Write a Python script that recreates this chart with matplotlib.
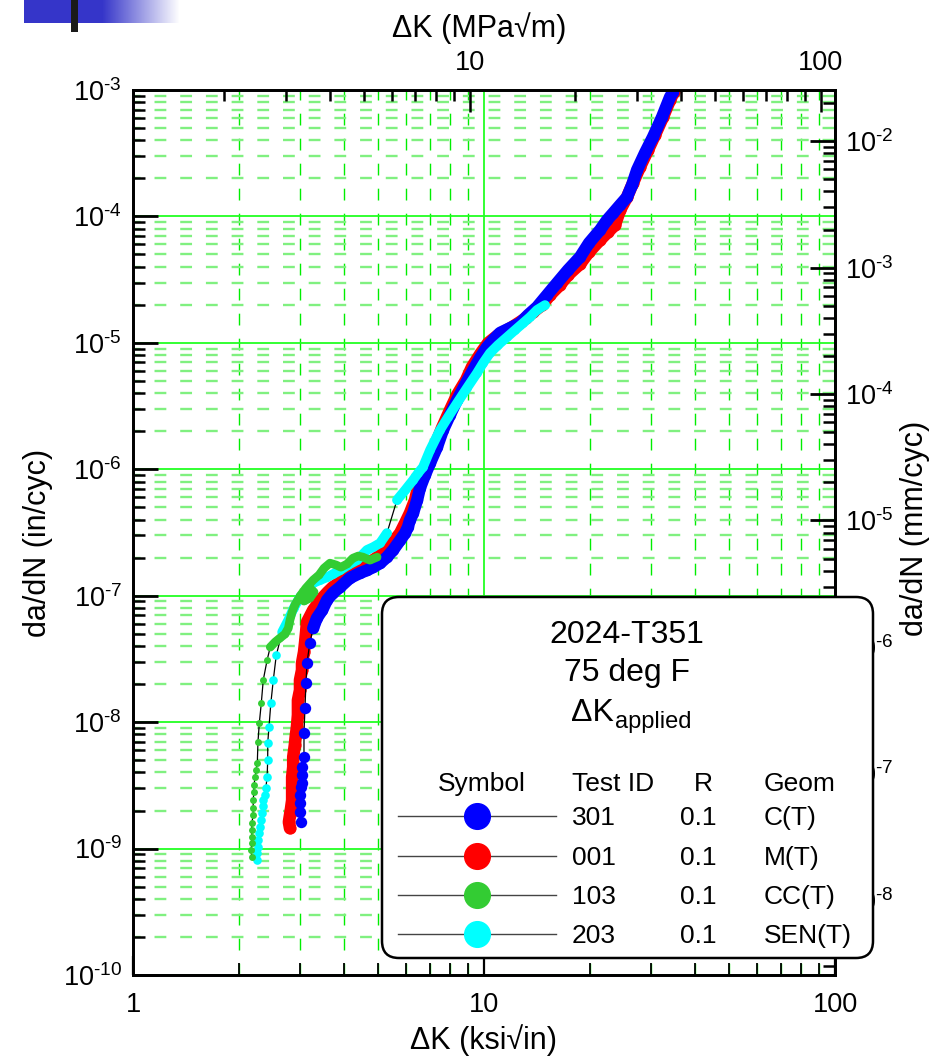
import numpy as np
import matplotlib
matplotlib.use('Agg')
import matplotlib.pyplot as plt
from matplotlib.ticker import (LogLocator, NullFormatter, FuncFormatter, FixedLocator)
from matplotlib.patches import FancyBboxPatch, Rectangle
from matplotlib.lines import Line2D

plt.rcParams['font.family'] = ['Liberation Sans', 'DejaVu Sans']
plt.rcParams['mathtext.fontset'] = 'custom'
plt.rcParams['mathtext.rm'] = 'Liberation Sans'
plt.rcParams['mathtext.it'] = 'Liberation Sans:italic'
plt.rcParams['mathtext.bf'] = 'Liberation Sans:bold'
plt.rcParams['lines.scale_dashes'] = False

# ---------------- data ----------------
KSI_TO_MPA = 1.0988   # ksi*sqrt(in) -> MPa*sqrt(m)
IN_TO_MM = 25.4       # in/cyc -> mm/cyc

# 301, C(T)  (blue)
blue_dk = [3.01, 2.99, 2.99, 2.99, 3.01, 3.03, 3.03, 3.03, 3.07, 3.07,
           3.09, 3.11, 3.13, 3.19, 3.26, 3.34, 3.46, 3.57, 3.71, 3.89,
           4.15, 4.43, 4.64, 4.83, 5.06, 5.29, 5.51, 5.77, 5.96, 6.07,
           6.15, 6.28, 6.45, 6.57, 6.79, 7.02, 7.35, 7.64, 8.00, 8.38,
           8.83, 9.31, 9.74, 10.20, 10.61, 11.11, 11.86, 12.66, 13.35, 14.16,
           15.12, 16.14, 17.35, 18.77, 19.91, 21.41, 22.41, 23.31, 24.41, 25.55,
           26.41, 27.29, 28.75, 30.30, 32.15, 33.88, 34.56]
blue_rate = [1.62e-9, 1.94e-9, 2.29e-9, 2.64e-9, 3.06e-9, 3.29e-9, 3.81e-9, 4.41e-9, 5.29e-9, 8.18e-9,
             1.29e-8, 2.03e-8, 2.93e-8, 4.22e-8, 5.54e-8, 6.65e-8, 7.69e-8, 9.23e-8, 1.05e-7, 1.17e-7,
             1.38e-7, 1.51e-7, 1.59e-7, 1.68e-7, 1.81e-7, 2.02e-7, 2.30e-7, 2.75e-7, 3.13e-7, 3.49e-7,
             3.96e-7, 4.50e-7, 5.71e-7, 7.10e-7, 9.00e-7, 1.12e-6, 1.50e-6, 2.04e-6, 2.69e-6, 3.53e-6,
             4.64e-6, 6.09e-6, 7.59e-6, 9.26e-6, 1.05e-5, 1.20e-5, 1.31e-5, 1.43e-5, 1.66e-5, 1.92e-5,
             2.39e-5, 2.97e-5, 3.77e-5, 4.77e-5, 6.16e-5, 7.81e-5, 9.36e-5, 1.06e-4, 1.23e-4, 1.42e-4,
             1.77e-4, 2.33e-4, 3.18e-4, 4.25e-4, 6.11e-4, 8.80e-4, 9.64e-4]

# 001, M(T)  (red)
red_dk = [2.80, 2.78, 2.80, 2.82, 2.84, 2.84, 2.84, 2.84, 2.86, 2.86,
          2.89, 2.91, 2.93, 2.95, 2.95, 2.99, 2.99, 3.03, 3.03, 3.07,
          3.09, 3.11, 3.13, 3.26, 3.37, 3.48, 3.59, 3.71, 3.89, 4.07,
          4.23, 4.43, 4.64, 4.83, 5.06, 5.29, 5.51, 5.77, 5.96, 6.15,
          6.36, 6.49, 6.70, 7.02, 7.30, 7.59, 8.00, 8.38, 8.89, 9.24,
          9.80, 10.27, 10.96, 12.02, 13.17, 13.79, 14.63, 15.42, 16.46, 17.35,
          18.77, 19.91, 21.41, 22.55, 23.61, 24.41, 25.55, 26.58, 27.82, 29.33,
          30.70, 32.36, 33.88, 34.78]
red_rate = [1.45e-9, 1.62e-9, 1.84e-9, 2.09e-9, 2.41e-9, 2.79e-9, 3.18e-9, 3.67e-9, 4.41e-9, 5.29e-9,
            6.58e-9, 7.89e-9, 9.13e-9, 1.14e-8, 1.49e-8, 1.79e-8, 2.15e-8, 2.58e-8, 2.93e-8, 3.58e-8,
            4.22e-8, 5.06e-8, 6.18e-8, 7.69e-8, 8.73e-8, 9.75e-8, 1.07e-7, 1.17e-7, 1.28e-7, 1.40e-7,
            1.54e-7, 1.65e-7, 1.78e-7, 1.91e-7, 2.09e-7, 2.30e-7, 2.66e-7, 3.13e-7, 3.75e-7, 4.50e-7,
            5.71e-7, 7.23e-7, 9.33e-7, 1.23e-6, 1.61e-6, 2.12e-6, 2.94e-6, 3.87e-6, 5.08e-6, 6.44e-6,
            8.31e-6, 9.96e-6, 1.15e-5, 1.33e-5, 1.57e-5, 1.75e-5, 1.99e-5, 2.39e-5, 2.87e-5, 3.44e-5,
            4.20e-5, 5.23e-5, 6.51e-5, 7.53e-5, 8.55e-5, 1.12e-4, 1.42e-4, 1.84e-4, 2.46e-4, 3.35e-4,
            4.41e-4, 6.11e-4, 8.33e-4, 9.70e-4]

# 103, CC(T)  (green)
green_dk = [2.18, 2.17, 2.18, 2.18, 2.18, 2.18, 2.20, 2.20, 2.20, 2.21,
            2.21, 2.23, 2.24, 2.26, 2.27, 2.29, 2.32, 2.35, 2.41, 2.46,
            2.54, 2.62, 2.71, 2.77, 2.80, 2.84, 2.89, 2.97, 3.07, 3.19,
            3.28, 3.19, 3.07, 2.99, 3.11, 3.26, 3.39, 3.50, 3.64, 3.79,
            3.91, 4.07, 4.23, 4.38, 4.52, 4.73, 4.96]
green_rate = [8.55e-10, 9.70e-10, 1.10e-9, 1.23e-9, 1.40e-9, 1.59e-9, 1.84e-9, 2.09e-9, 2.41e-9, 2.79e-9,
              3.18e-9, 3.67e-9, 4.17e-9, 4.74e-9, 6.95e-9, 9.82e-9, 1.41e-8, 2.15e-8, 3.09e-8, 3.92e-8,
              4.30e-8, 4.62e-8, 4.97e-8, 5.54e-8, 6.41e-8, 7.41e-8, 8.43e-8, 9.58e-8, 1.05e-7, 1.15e-7,
              1.07e-7, 9.58e-8, 9.06e-8, 9.93e-8, 1.15e-7, 1.33e-7, 1.46e-7, 1.65e-7, 1.81e-7, 1.75e-7,
              1.68e-7, 1.78e-7, 1.98e-7, 2.06e-7, 2.02e-7, 1.91e-7, 2.02e-7]

# 203, SEN(T)  (cyan)
cyan_dk = [2.26, 2.26, 2.27, 2.27, 2.29, 2.30, 2.32, 2.33, 2.35, 2.35,
           2.38, 2.39, 2.41, 2.42, 2.42, 2.44, 2.47, 2.51, 2.56, 2.66,
           2.77, 2.87, 2.99, 3.13, 3.26, 3.41, 3.57, 3.71, 3.89, 4.10,
           4.35, 4.49, 4.64, 4.83, 5.06, 5.29,
           5.65, 5.96, 6.28, 6.49, 6.70, 7.02, 7.49, 7.90, 8.38, 8.94,
           9.55, 9.94, 10.40, 10.96, 11.63, 12.25, 12.91, 13.52, 14.16, 14.92]
cyan_rate = [8.10e-10, 9.20e-10, 1.03e-9, 1.16e-9, 1.32e-9, 1.48e-9, 1.68e-9, 1.91e-9, 2.16e-9, 2.41e-9,
             2.64e-9, 3.00e-9, 3.67e-9, 5.00e-9, 6.82e-9, 9.13e-9, 1.41e-8, 2.15e-8, 3.39e-8, 5.15e-8,
             6.41e-8, 7.98e-8, 9.75e-8, 1.11e-7, 1.26e-7, 1.33e-7, 1.40e-7, 1.48e-7, 1.59e-7, 1.75e-7,
             1.91e-7, 2.09e-7, 2.30e-7, 2.42e-7, 2.61e-7, 3.13e-7,
             5.71e-7, 6.84e-7, 8.21e-7, 9.33e-7, 1.04e-6, 1.42e-6, 2.04e-6, 2.59e-6, 3.34e-6, 4.39e-6,
             5.77e-6, 6.92e-6, 8.31e-6, 9.61e-6, 1.11e-5, 1.26e-5, 1.43e-5, 1.60e-5, 1.82e-5, 1.99e-5]

test_ids = ['301', '001', '103', '203']
r_values = ['0.1', '0.1', '0.1', '0.1']
geoms = ['C(T)', 'M(T)', 'CC(T)', 'SEN(T)']
series_colors = ['#0000ff', '#ff0000', '#33cc33', '#00ffff']

x_major = [1, 10, 100]
y_major = [1e-10, 1e-9, 1e-8, 1e-7, 1e-6, 1e-5, 1e-4, 1e-3]
top_major = [10, 100]
right_major = [1e-8, 1e-7, 1e-6, 1e-5, 1e-4, 1e-3, 1e-2]

# ---------------- figure ----------------
W, H = 932, 1058
fig = plt.figure(figsize=(W / 100, H / 100), dpi=100)
ax = fig.add_axes([133 / W, 1 - 975 / H, (835 - 133) / W, (975 - 90) / H])
ax.set_xscale('log')
ax.set_yscale('log')
ax.set_xlim(1, 100)
ax.set_ylim(1e-10, 1e-3)
ax.set_axisbelow(True)

# grid
ax.xaxis.grid(True, which='major', color='#22ff22', lw=1.3, ls='-')
ax.yaxis.grid(True, which='major', color='#22ff22', lw=1.3, ls='-')
ax.xaxis.grid(True, which='minor', color='#00ee00', lw=1.0, ls=(0, (8.5, 9.5)))
ax.yaxis.grid(True, which='minor', color='#80f080', lw=1.7, ls=(3, (8.5, 10)))


def draw(dk, rate, color, ms, band_lw, bands, z):
    ax.plot(dk, rate, color='black', lw=0.9, zorder=z)
    for s, e in bands:
        ax.plot(dk[s:e], rate[s:e], color=color, lw=band_lw, solid_capstyle='round',
                solid_joinstyle='round', zorder=z + 0.1)
    ax.plot(dk, rate, ls='none', marker='o', ms=ms, mfc=color, mec=color, mew=0, zorder=z + 0.2)


draw(red_dk, red_rate, series_colors[1], 8.8, 9.0, [(0, None)], 3)
draw(blue_dk, blue_rate, series_colors[0], 8.2, 8.8, [(14, None)], 4)
draw(cyan_dk, cyan_rate, series_colors[3], 6.2, 7.0, [(19, 36), (36, None)], 5)
draw(green_dk, green_rate, series_colors[2], 5.0, 6.2, [(19, None)], 6)


# ticks
def pow_label(v, p):
    e = int(round(np.log10(v)))
    if e < 0:
        return r'$\mathdefault{10^{\text{-}%d}}$' % (-e)
    return r'$\mathdefault{10^{%d}}$' % e


TICK_FS = 19.5
minor_loc = lambda: LogLocator(10, subs=np.arange(2, 10), numticks=30)
fmt_plain = FuncFormatter(lambda v, p: f'{v:g}')
fmt_pow = FuncFormatter(pow_label)

ax.xaxis.set_major_locator(FixedLocator(x_major))
ax.xaxis.set_minor_locator(minor_loc())
ax.yaxis.set_major_locator(FixedLocator(y_major))
ax.yaxis.set_minor_locator(minor_loc())
ax.xaxis.set_major_formatter(fmt_plain)
ax.xaxis.set_minor_formatter(NullFormatter())
ax.yaxis.set_major_formatter(fmt_pow)
ax.yaxis.set_minor_formatter(NullFormatter())
ax.tick_params(axis='x', which='major', direction='in', length=13.5, width=1.6, pad=12, labelsize=TICK_FS,
               top=False, bottom=True)
ax.tick_params(axis='x', which='minor', direction='in', length=8.5, width=1.3, top=False, bottom=True)
ax.tick_params(axis='y', which='major', direction='in', length=18, width=2.0, pad=8, labelsize=TICK_FS,
               left=True, right=False)
ax.tick_params(axis='y', which='minor', direction='in', length=8.5, width=1.8, left=True, right=False)
for s in ax.spines.values():
    s.set_linewidth(1.8)

# top axis: MPa sqrt(m)
ax_t = ax.twiny()
ax_t.set_xscale('log')
ax_t.set_xlim(ax.get_xlim()[0] * KSI_TO_MPA, ax.get_xlim()[1] * KSI_TO_MPA)
ax_t.xaxis.set_major_locator(FixedLocator(top_major))
ax_t.xaxis.set_minor_locator(minor_loc())
ax_t.xaxis.set_major_formatter(fmt_plain)
ax_t.xaxis.set_minor_formatter(NullFormatter())
ax_t.tick_params(axis='x', which='major', direction='in', length=16, width=1.8, pad=10, labelsize=TICK_FS,
                 top=True, bottom=False)
ax_t.tick_params(axis='x', which='minor', direction='in', length=8, width=1.8, top=True, bottom=False)

# right axis: mm/cyc
ax_r = ax.twinx()
ax_r.set_yscale('log')
ax_r.set_ylim(ax.get_ylim()[0] * IN_TO_MM, ax.get_ylim()[1] * IN_TO_MM)
ax_r.yaxis.set_major_locator(FixedLocator(right_major))
ax_r.yaxis.set_minor_locator(minor_loc())
ax_r.yaxis.set_major_formatter(fmt_pow)
ax_r.yaxis.set_minor_formatter(NullFormatter())
ax_r.tick_params(axis='y', which='major', direction='in', length=18, width=2.0, pad=7, labelsize=TICK_FS,
                 right=True, left=False)
ax_r.tick_params(axis='y', which='minor', direction='in', length=9, width=1.8, right=True, left=False)
for a in (ax_t, ax_r):
    for s in a.spines.values():
        s.set_linewidth(1.8)

# axis titles
LAB_FS = 22
fig.text(483 / W, 1 - 1040 / H, 'ΔK (ksi√in)', ha='center', va='center', fontsize=LAB_FS)
fig.text(479 / W, 1 - 28 / H, 'ΔK (MPa√m)', ha='center', va='center', fontsize=LAB_FS)
fig.text(38 / W, 1 - 543 / H, 'da/dN (in/cyc)', ha='center', va='center', rotation=90, fontsize=LAB_FS)
fig.text(915 / W, 1 - 528 / H, 'da/dN (mm/cyc)', ha='center', va='center', rotation=90, fontsize=LAB_FS)

# ---------------- legend box ----------------
tr = fig.dpi_scale_trans
box = FancyBboxPatch((382 / 100, (H - 958) / 100), (873 - 382) / 100, (958 - 597) / 100,
                     boxstyle='round,pad=0,rounding_size=0.17', transform=tr,
                     facecolor='white', edgecolor='black', lw=1.8, zorder=10)
fig.add_artist(box)


def ftext(x, y, s, **kw):
    kw.setdefault('zorder', 11)
    fig.text(x / W, 1 - y / H, s, **kw)


ftext(627, 643, '2024-T351', ha='center', va='baseline', fontsize=23)
ftext(627, 681, '75 deg F', ha='center', va='baseline', fontsize=23)
ftext(614, 721, 'ΔK', ha='right', va='baseline', fontsize=23)
ftext(615, 728, 'applied', ha='left', va='baseline', fontsize=17)

TAB_FS = 19
ftext(482, 791, 'Symbol', ha='center', va='baseline', fontsize=TAB_FS)
ftext(572, 791, 'Test ID', ha='left', va='baseline', fontsize=TAB_FS)
ftext(703, 791, 'R', ha='center', va='baseline', fontsize=TAB_FS)
ftext(764, 791, 'Geom', ha='left', va='baseline', fontsize=TAB_FS)

row_base = [825, 865, 904, 943]
for i, yb in enumerate(row_base):
    ym = yb - 9
    c = series_colors[i]
    fig.add_artist(Line2D([398 / W, 556 / W], [1 - ym / H, 1 - ym / H], transform=fig.transFigure,
                          color='#444444', lw=1.0, zorder=11))
    fig.add_artist(Line2D([477 / W], [1 - ym / H], transform=fig.transFigure, ls='none',
                          marker='o', ms=18.5, mfc=c, mec=c, zorder=12))
    ftext(572, yb, test_ids[i], ha='left', va='baseline', fontsize=TAB_FS)
    ftext(680, yb, r_values[i], ha='left', va='baseline', fontsize=TAB_FS)
    ftext(764, yb, geoms[i], ha='left', va='baseline', fontsize=TAB_FS)

# ---------------- header decoration (top-left) ----------------
logo_ax = fig.add_axes([24 / W, 1 - 23 / H, 156 / W, 23 / H])
logo_ax.set_axis_off()
blue = np.array([0.21, 0.21, 0.79])
white = np.array([1.0, 1.0, 1.0])
t = np.concatenate([np.zeros(78), np.linspace(0, 1, 78)])
grad = blue[None, :] * (1 - t[:, None]) + white[None, :] * t[:, None]
logo_ax.imshow(grad[None, :, :], aspect='auto', interpolation='bilinear')
fig.add_artist(Rectangle((71 / W, 1 - 32 / H), 7 / W, 32 / H, transform=fig.transFigure,
                         facecolor='#1a1a1a', edgecolor='none', zorder=5))

fig.savefig('out.png', dpi=100)
